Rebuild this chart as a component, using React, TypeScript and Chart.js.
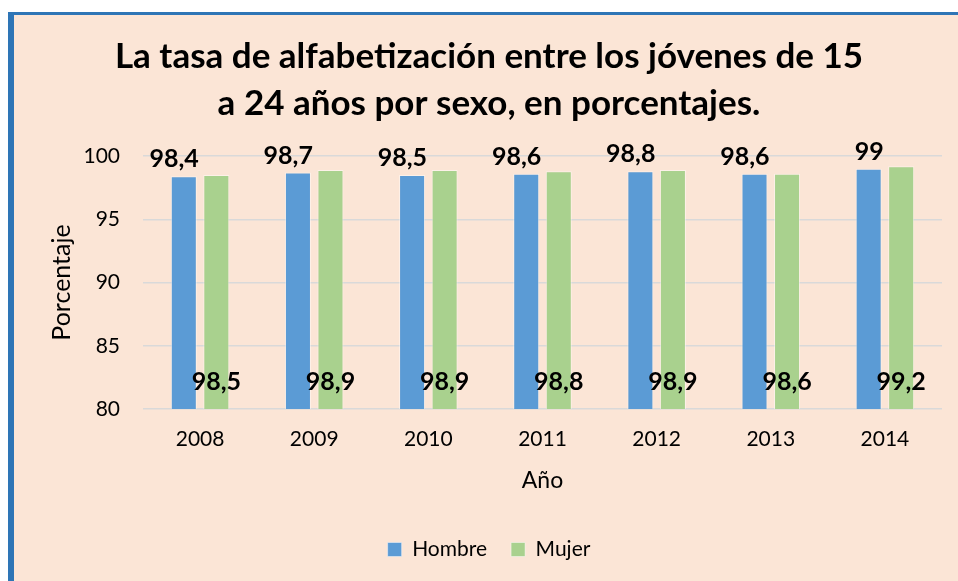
import React, { useEffect, useRef } from 'react';
import { Chart, registerables } from 'chart.js';

Chart.register(...registerables);

const years = ['2008', '2009', '2010', '2011', '2012', '2013', '2014'];
const hombre = [98.4, 98.7, 98.5, 98.6, 98.8, 98.6, 99.0];
const mujer = [98.5, 98.9, 98.9, 98.8, 98.9, 98.6, 99.2];
const titleLines = [
  'La tasa de alfabetización entre los jóvenes de 15',
  'a 24 años por sexo, en porcentajes.',
];
const yMin = 80;
const yMax = 100;
const yStep = 5;

const FONT = 'Lato, "Open Sans", "DejaVu Sans", sans-serif';
const W = 958;
const H = 581;

const fmt = (v: number) => String(v).replace('.', ',');

export default function App() {
  const ref = useRef<HTMLCanvasElement>(null);

  useEffect(() => {
    document.body.style.margin = '0';
    const canvas = ref.current;
    if (!canvas) return;

    const bgPlugin = {
      id: 'bgFrame',
      beforeDraw(chart: any) {
        const ctx = chart.ctx;
        ctx.save();
        ctx.fillStyle = '#ffffff';
        ctx.fillRect(0, 0, W, H);
        ctx.fillStyle = '#2E75B6';
        ctx.fillRect(8, 12, W - 8, H - 12);
        ctx.fillStyle = '#FBE5D6';
        ctx.fillRect(14, 15, W - 14, H - 15);
        ctx.restore();
      },
    };

    const labelPlugin = {
      id: 'valueLabels',
      afterDatasetsDraw(chart: any) {
        const ctx = chart.ctx;
        ctx.save();
        ctx.fillStyle = '#000000';
        ctx.font = `bold 25px ${FONT}`;
        ctx.textBaseline = 'middle';
        const m0 = chart.getDatasetMeta(0);
        m0.data.forEach((bar: any, i: number) => {
          ctx.textAlign = 'right';
          ctx.fillText(fmt(hombre[i]), bar.x + bar.width / 2 + 2, bar.y - 17);
        });
        const m1 = chart.getDatasetMeta(1);
        const base = chart.scales.y.getPixelForValue(yMin);
        m1.data.forEach((bar: any, i: number) => {
          ctx.textAlign = 'center';
          ctx.fillText(fmt(mujer[i]), bar.x, base - 27);
        });
        ctx.restore();
      },
    };

    const chart = new Chart(canvas, {
      type: 'bar',
      data: {
        labels: years,
        datasets: [
          {
            label: 'Hombre',
            data: hombre,
            backgroundColor: '#5B9BD5',
            borderColor: 'rgba(255,255,255,0.45)',
            borderWidth: 1,
            barPercentage: 0.8,
            categoryPercentage: 0.57,
          },
          {
            label: 'Mujer',
            data: mujer,
            backgroundColor: '#A9D18E',
            borderColor: 'rgba(255,255,255,0.45)',
            borderWidth: 1,
            barPercentage: 0.8,
            categoryPercentage: 0.57,
          },
        ],
      },
      options: {
        responsive: false,
        animation: false,
        devicePixelRatio: 1,
        layout: { padding: { left: 36, right: 16, top: 0, bottom: 11 } },
        plugins: {
          title: {
            display: true,
            text: titleLines,
            color: '#000000',
            font: { family: FONT, size: 35, weight: 'bold', lineHeight: 1.343 },
            padding: { top: 33, bottom: 29 },
          },
          legend: {
            position: 'bottom',
            labels: {
              color: '#000000',
              font: { family: FONT, size: 21 },
              boxWidth: 14,
              boxHeight: 14,
              padding: 24,
            },
          },
          tooltip: { enabled: false },
        },
        scales: {
          x: {
            grid: { display: false, drawTicks: false },
            border: { display: false },
            ticks: { color: '#000000', font: { family: FONT, size: 21 }, padding: 18 },
            title: {
              display: true,
              text: 'Año',
              color: '#000000',
              font: { family: FONT, size: 23 },
              padding: { top: 0, bottom: 21 },
            },
            afterFit(scale: any) {
              scale.height = 106;
            },
          },
          y: {
            min: yMin,
            max: yMax,
            ticks: {
              stepSize: yStep,
              color: '#000000',
              font: { family: FONT, size: 21 },
              padding: 23,
            },
            grid: { color: '#D9D9D9', lineWidth: 1.5, drawTicks: false },
            border: { display: false },
            title: {
              display: true,
              text: 'Porcentaje',
              color: '#000000',
              font: { family: FONT, size: 25 },
              padding: { top: 11, bottom: 0 },
            },
            afterFit(scale: any) {
              scale.width = 107;
            },
          },
        },
      },
      plugins: [bgPlugin, labelPlugin],
    });

    return () => chart.destroy();
  }, []);

  return <canvas ref={ref} width={W} height={H} style={{ display: 'block' }} />;
}
